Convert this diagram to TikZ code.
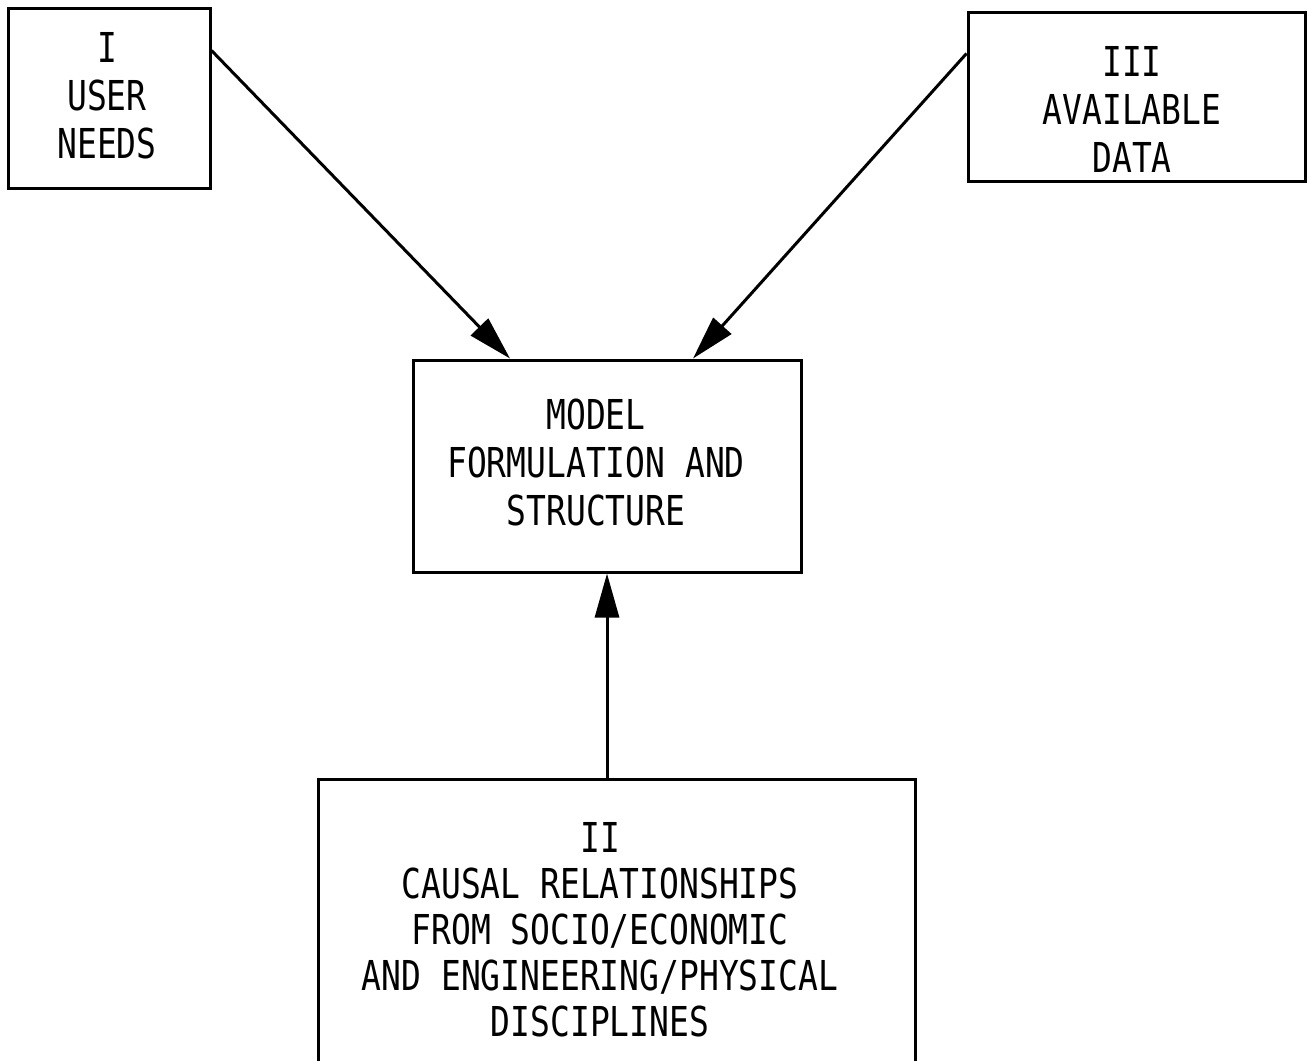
\documentclass[tikz,border=0pt]{standalone}
\usepackage{fontspec}
\setmainfont{DejaVu Sans Mono}[FakeStretch=0.8]
\usetikzlibrary{arrows.meta,calc}
\begin{document}
\begin{tikzpicture}[x=0.5pt,y=-0.5pt,
 box/.style={draw,line width=1.5pt,inner sep=0pt},
 txt/.style={align=center,font=\fontsize{20.6pt}{24pt}\selectfont,inner sep=0pt},
 txtb/.style={align=center,font=\fontsize{20.6pt}{23pt}\selectfont,inner sep=0pt},
 arr/.style={line width=1.5pt,-{Triangle[length=22pt,width=12pt]}}]
\useasboundingbox (0,0) rectangle (1309,1060);
\node[box,minimum width=101pt,minimum height=90pt] (b1) at (109,98) {};
\node[txt] (t1) at (107,96) {I\\USER\\NEEDS};
\node[box,minimum width=168.5pt,minimum height=84.5pt] (b3) at (1136.5,96.5) {};
\node[txt] (t3) at (1132,109) {III\\AVAILABLE\\DATA};
\node[box,minimum width=194pt,minimum height=106pt] (m) at (607,466) {};
\node[txt] (tm) at (596,462) {MODEL\\FORMULATION AND\\STRUCTURE};
\node[box,minimum width=298.5pt,minimum height=150pt] (b2) at (616.5,929) {};
\node[txtb] (t2) at (600,930) {II\\CAUSAL RELATIONSHIPS\\FROM SOCIO/ECONOMIC\\AND ENGINEERING/PHYSICAL\\DISCIPLINES};
\coordinate (s1) at ($(b1.north east)+(0,44)$);
\coordinate (e1) at ($(m.north)+(-97,0)$);
\coordinate (s3) at ($(b3.north west)+(0,43)$);
\coordinate (e3) at ($(m.north)+(86,0)$);
\draw[arr] (s1) -- (e1);
\draw[arr] (s3) -- (e3);
\draw[arr] (b2.north -| m.south) -- (m.south);
\end{tikzpicture}
\end{document}
